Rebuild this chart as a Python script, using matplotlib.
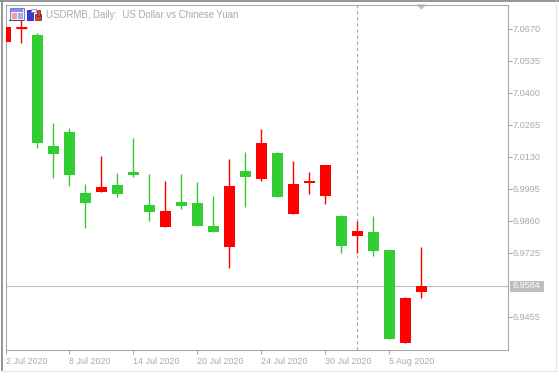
import matplotlib
matplotlib.use("Agg")
import matplotlib.pyplot as plt
from matplotlib.lines import Line2D
from matplotlib.patches import Rectangle, Polygon

W, H = 559, 376
FONT = "Liberation Sans"
GRAY = "#a9a9a9"
GREEN = "#32cd32"
RED = "#ff0000"

plt.rcParams["font.family"] = [FONT, "DejaVu Sans"]

title = "USDRMB, Daily:  US Dollar vs Chinese Yuan"

# daily candles, red = close above open
opens = [7.0613, 7.0671, 7.0643, 7.0174, 7.0233, 6.9976, 6.9980, 7.0010, 7.0065, 6.9925,
         6.9833, 6.9938, 6.9934, 6.9837, 6.9748, 7.0069, 7.0035, 7.0145, 6.9887, 7.0018,
         6.9963, 6.9879, 6.9795, 6.9812, 6.9736, 6.9343, 6.9558]
closes = [7.0676, 7.0675, 7.0187, 7.0141, 7.0052, 6.9934, 7.0001, 6.9972, 7.0052, 6.9896,
          6.9900, 6.9921, 6.9837, 6.9812, 7.0006, 7.0043, 7.0187, 6.9959, 7.0014, 7.0027,
          7.0094, 6.9752, 6.9816, 6.9731, 6.9360, 6.9533, 6.9584]
highs = [7.0676, 7.0706, 7.0651, 7.0271, 7.0250, 7.0014, 7.0132, 7.0060, 7.0208, 7.0056,
         7.0027, 7.0056, 7.0022, 6.9963, 7.0119, 7.0149, 7.0246, 7.0149, 7.0111, 7.0065,
         7.0094, 6.9883, 6.9858, 6.9879, 6.9736, 6.9537, 6.9748]
lows = [7.0613, 7.0610, 7.0167, 7.0039, 7.0006, 6.9828, 6.9980, 6.9959, 7.0043, 6.9858,
        6.9833, 6.9909, 6.9837, 6.9812, 6.9660, 6.9917, 7.0027, 6.9959, 6.9887, 6.9972,
        6.9930, 6.9723, 6.9723, 6.9710, 6.9360, 6.9343, 6.9533]

price_ticks = [7.0670, 7.0535, 7.0400, 7.0265, 7.0130, 6.9995, 6.9860, 6.9725, 6.9455]
price_labels = ["7.0670", "7.0535", "7.0400", "7.0265", "7.0130", "6.9995", "6.9860", "6.9725", "6.9455"]
date_ticks = [0, 4, 8, 12, 16, 20, 24]
date_labels = ["2 Jul 2020", "8 Jul 2020", "14 Jul 2020", "20 Jul 2020", "24 Jul 2020", "30 Jul 2020", "5 Aug 2020"]
last_price = 6.9584
cursor_bar = 22
marker_bar = 26


def fx(x):
    return x / W


def fy(y):
    return 1 - y / H


fig = plt.figure(figsize=(W / 100, H / 100), dpi=100)

# the terminal window frame
fig.add_artist(Line2D([fx(0), fx(559)], [fy(0.8), fy(0.8)], color="#8c8c8c", lw=1.3))
fig.add_artist(Line2D([fx(1.8), fx(1.8)], [fy(0), fy(370)], color="#8c8c8c", lw=1.3))
fig.add_artist(Line2D([fx(2), fx(555.5)], [fy(370.5), fy(370.5)], color="#e4e4e4", lw=0.8))
fig.add_artist(Line2D([fx(555.5), fx(555.5)], [fy(1), fy(370.5)], color="#e4e4e4", lw=0.8))

left, right, top, bottom = 5.5, 507.5, 4.5, 349.5
per_px = 0.0135 / 32
ax = fig.add_axes([fx(left), fy(bottom), fx(right - left), (bottom - top) / H])
ax.set_xlim((left - 5.3) / 16, (right - 5.3) / 16)
ax.set_ylim(7.0670 - (bottom - 28.5) * per_px, 7.0670 + (28.5 - top) * per_px)

for spine in ["left", "bottom", "right", "top"]:
    ax.spines[spine].set_color(GRAY)
    ax.spines[spine].set_linewidth(0.8)

ax.axhline(last_price, color="#bdbdbd", lw=0.8, zorder=1)
ax.axvline(cursor_bar, color=GRAY, lw=0.8, ls=(0, (3, 2.5)), zorder=1)

for i in range(len(opens)):
    col = RED if closes[i] >= opens[i] else GREEN
    ax.plot([i, i], [lows[i], highs[i]], color=col, lw=1.0, solid_capstyle="butt", zorder=2)
    ax.bar(i, abs(closes[i] - opens[i]), bottom=min(opens[i], closes[i]), width=11 / 16,
           color=col, lw=0, zorder=3)
# second candle is a doji, its body is only a line
ax.plot([1 - 5.5 / 16, 1 + 5.5 / 16], [opens[1], opens[1]], color=RED, lw=0.9, zorder=3,
        solid_capstyle="butt")

ax.yaxis.tick_right()
ax.set_yticks(price_ticks)
ax.set_yticklabels(price_labels)
ax.set_xticks(date_ticks)
ax.set_xticklabels(date_labels, ha="left")
ax.tick_params(axis="y", length=3.2, width=0.8, color=GRAY, labelcolor=GRAY, labelsize=6.6, pad=0.5)
ax.tick_params(axis="x", length=3, width=0.8, color=GRAY, labelcolor=GRAY, labelsize=6.4, pad=2.5)

# last price tag on the scale
ax.add_patch(Rectangle((1.0 + 2.5 / 502, last_price - 6 * per_px), 34 / 502, 11 * per_px,
                       transform=ax.get_yaxis_transform(), fc="#bdbdbd", ec="none", clip_on=False))
ax.text(1.0 + 5 / 502, last_price, f"{last_price:.4f}", transform=ax.get_yaxis_transform(),
        ha="left", va="center", color="white", fontsize=6.6)

# marker on top of the chart for the shift position
tri_x = ax.get_xaxis_transform()
ax.add_patch(Polygon([[marker_bar - 5 / 16, 1.0], [marker_bar + 5 / 16, 1.0], [marker_bar, 0.985]],
                     closed=True, transform=tri_x, fc="#bdbdbd", ec="none", clip_on=False))

fig.text(fx(46.5), fy(14.5), title, color=GRAY, fontsize=6.9, va="center", ha="left")


def box(x, y, w, h, fc, ec="none", lw=0):
    fig.add_artist(Rectangle((fx(x), fy(y + h)), w / W, h / H, transform=fig.transFigure,
                             fc=fc, ec=ec, lw=lw, zorder=5))


# toolbar icons next to the title
box(9.5, 8.5, 14, 11, "#f2f2ff", ec="#7a7ad8", lw=0.8)
box(10.5, 9, 12, 2.5, "#8a8ae8")
box(11.5, 12.5, 5, 6, "#f2a08c")
box(17.5, 12.5, 5, 6, "#a8a8f0")
box(9, 20, 15, 0.8, "#555555")
box(26.5, 9.5, 6, 10, "#3a3ae0", ec="#20208c", lw=0.6)
box(31, 15, 2, 4.5, "#3a3ae0")
box(31, 8.5, 5, 3, "#f4f4f4", ec="#808080", lw=0.5)
box(34.5, 14, 6, 5.5, "#c8463c", ec="#8c2a24", lw=0.6)
box(37, 9.5, 3, 6, "#c8463c", ec="#8c2a24", lw=0.6)

plt.savefig("out.png", dpi=100)
